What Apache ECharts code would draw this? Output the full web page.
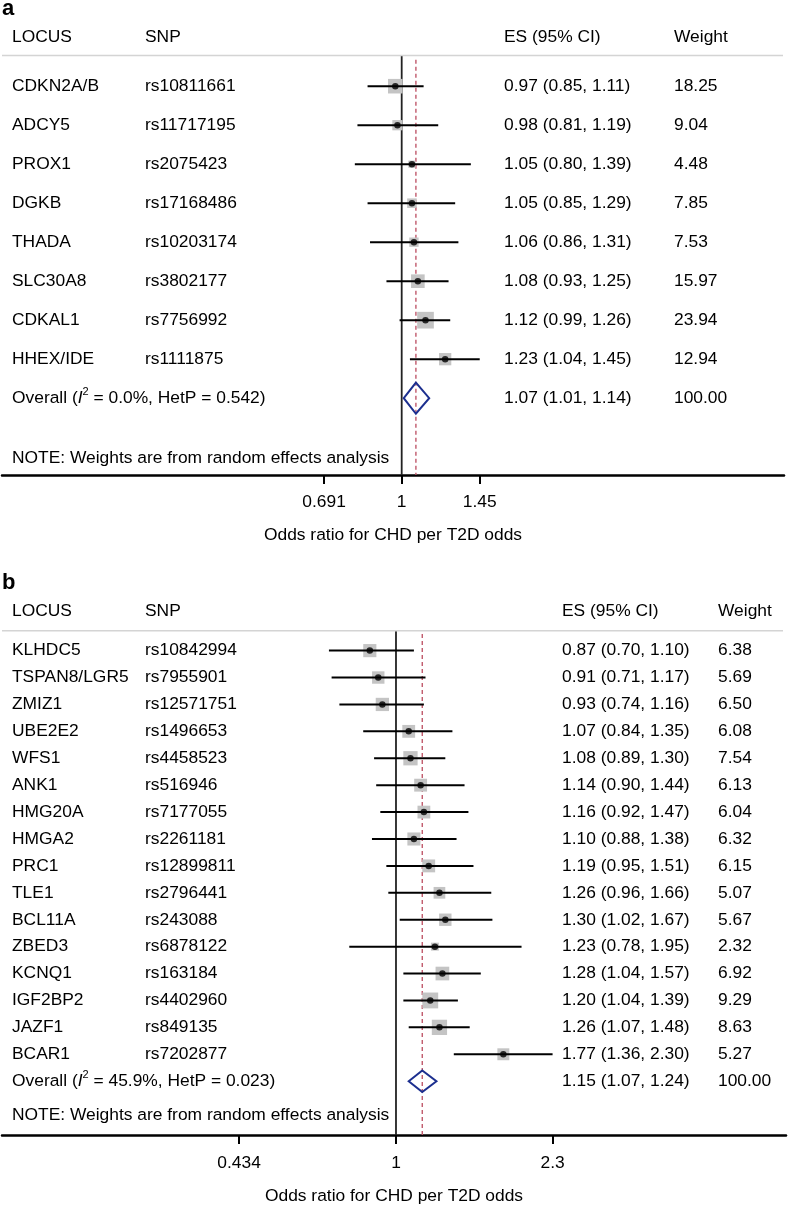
<!DOCTYPE html>
<html><head><meta charset="utf-8">
<script src="https://cdn.jsdelivr.net/npm/echarts@6/dist/echarts.min.js"></script>
<style>html,body{margin:0;padding:0;background:#fff}#c{width:788px;height:1206px}</style>
</head><body><div id="c"></div>
<script>
// ---------- Panel a data ----------
const locusA = ['CDKN2A/B','ADCY5','PROX1','DGKB','THADA','SLC30A8','CDKAL1','HHEX/IDE'];
const snpA = ['rs10811661','rs11717195','rs2075423','rs17168486','rs10203174','rs3802177','rs7756992','rs1111875'];
const esA = [0.97, 0.98, 1.05, 1.05, 1.06, 1.08, 1.12, 1.23];
const loA = [0.85, 0.81, 0.80, 0.85, 0.86, 0.93, 0.99, 1.04];
const hiA = [1.11, 1.19, 1.39, 1.29, 1.31, 1.25, 1.26, 1.45];
const weightA = [18.25, 9.04, 4.48, 7.85, 7.53, 15.97, 23.94, 12.94];
const overallA = [1.07, 1.01, 1.14];
const overallWeightA = 100.00;
const hetA = ['0.0%', '0.542'];
const tickValuesA = [0.691, 1, 1.45];
const tickLabelsA = ['0.691', '1', '1.45'];

// ---------- Panel b data ----------
const locusB = ['KLHDC5','TSPAN8/LGR5','ZMIZ1','UBE2E2','WFS1','ANK1','HMG20A','HMGA2','PRC1','TLE1','BCL11A','ZBED3','KCNQ1','IGF2BP2','JAZF1','BCAR1'];
const snpB = ['rs10842994','rs7955901','rs12571751','rs1496653','rs4458523','rs516946','rs7177055','rs2261181','rs12899811','rs2796441','rs243088','rs6878122','rs163184','rs4402960','rs849135','rs7202877'];
const esB = [0.87, 0.91, 0.93, 1.07, 1.08, 1.14, 1.16, 1.10, 1.19, 1.26, 1.30, 1.23, 1.28, 1.20, 1.26, 1.77];
const loB = [0.70, 0.71, 0.74, 0.84, 0.89, 0.90, 0.92, 0.88, 0.95, 0.96, 1.02, 0.78, 1.04, 1.04, 1.07, 1.36];
const hiB = [1.10, 1.17, 1.16, 1.35, 1.30, 1.44, 1.47, 1.38, 1.51, 1.66, 1.67, 1.95, 1.57, 1.39, 1.48, 2.30];
const weightB = [6.38, 5.69, 6.50, 6.08, 7.54, 6.13, 6.04, 6.32, 6.15, 5.07, 5.67, 2.32, 6.92, 9.29, 8.63, 5.27];
const overallB = [1.15, 1.07, 1.24];
const overallWeightB = 100.00;
const hetB = ['45.9%', '0.023'];
const tickValuesB = [0.434, 1, 2.3];
const tickLabelsB = ['0.434', '1', '2.3'];

// ---------- Shared text ----------
const headers = ['LOCUS', 'SNP', 'ES (95% CI)', 'Weight'];
const panelLetters = ['a', 'b'];
const noteText = 'NOTE: Weights are from random effects analysis';
const axisTitle = 'Odds ratio for CHD per T2D odds';

const FONT = '"Liberation Sans", Arial, Helvetica, sans-serif';
const FS = 17.4;
const ln = Math.log;

const panels = [
  { d: {locus: locusA, snp: snpA, es: esA, lo: loA, hi: hiA, w: weightA, o: overallA, ow: overallWeightA, het: hetA, tv: tickValuesA, tl: tickLabelsA},
    L: {top: 86 - 2 * 38.9, height: 12 * 38.9, left: 2, width: 782, xmin: -1.9033, xmax: 1.8205, yMax: 9.97,
        header: -1.25, divider: -0.79, nullStart: -0.79, dashStart: -0.68, note: 9.55,
        cols: [12, 145, 504, 674], dh: 0.4, sq: 3.41, letterY: 9, margin: 19, gap: 52 } },
  { d: {locus: locusB, snp: snpB, es: esB, lo: loB, hi: hiB, w: weightB, o: overallB, ow: overallWeightB, het: hetB, tv: tickValuesB, tl: tickLabelsB},
    L: {top: 651 - 2 * 27.1, height: 20 * 27.1, left: 2, width: 784, xmin: -2.0957, xmax: 2.0745, yMax: 18,
        header: -1.46, divider: -0.74, nullStart: -0.74, dashStart: -0.62, note: 17.25,
        cols: [12, 145, 562, 718], dh: 0.4, sq: 5.2, letterY: 583, margin: 20, gap: 53 } }
];

const grids = [], xAxes = [], yAxes = [], series = [], graphics = [];

panels.forEach((P, g) => {
  const d = P.d, L = P.L, N = d.locus.length;
  const ticksLn = d.tv.map(v => ln(v));
  grids.push({left: L.left, width: L.width, top: L.top, height: L.height, containLabel: false});
  xAxes.push({
    gridIndex: g, type: 'value', min: L.xmin, max: L.xmax, position: 'bottom',
    axisLine: {show: true, onZero: false, lineStyle: {color: '#000', width: 2.5}},
    axisTick: {show: true, customValues: ticksLn, length: 9, lineStyle: {color: '#000', width: 2}},
    axisLabel: {show: true, customValues: ticksLn, margin: L.margin, color: '#000', fontSize: FS, fontFamily: FONT,
      formatter: v => { const k = ticksLn.findIndex(t => Math.abs(t - v) < 1e-6); return k >= 0 ? d.tl[k] : ''; }},
    splitLine: {show: false},
    name: axisTitle, nameLocation: 'middle', nameGap: L.gap,
    nameTextStyle: {color: '#000', fontSize: FS, fontFamily: FONT}
  });
  yAxes.push({gridIndex: g, type: 'value', inverse: true, min: -2, max: L.yMax, show: false});

  // weight squares
  series.push({type: 'scatter', xAxisIndex: g, yAxisIndex: g, symbol: 'rect', silent: true, z: 2,
    data: d.es.map((e, i) => [ln(e), i, d.w[i]]),
    symbolSize: v => Math.sqrt(v[2]) * L.sq,
    itemStyle: {color: '#c4c4c4', opacity: 1}});
  // CI lines
  series.push({type: 'custom', xAxisIndex: g, yAxisIndex: g, z: 3, silent: true,
    data: d.lo.map((l, i) => [ln(l), ln(d.hi[i]), i]),
    renderItem: (p, api) => {
      const a = api.coord([api.value(0), api.value(2)]);
      const b = api.coord([api.value(1), api.value(2)]);
      return {type: 'line', shape: {x1: a[0], y1: a[1], x2: b[0], y2: b[1]}, style: {stroke: '#000', lineWidth: 2}};
    }});
  // point estimates
  series.push({type: 'scatter', xAxisIndex: g, yAxisIndex: g, symbol: 'circle', symbolSize: 6.5, silent: true, z: 4,
    data: d.es.map((e, i) => [ln(e), i]), itemStyle: {color: '#000'}});
  // null line and overall dashed line
  series.push({type: 'custom', xAxisIndex: g, yAxisIndex: g, z: 1, silent: true,
    data: [[0, L.nullStart, L.yMax, 0], [ln(d.o[0]), L.dashStart, L.yMax, 1]],
    renderItem: (p, api) => {
      const a = api.coord([api.value(0), api.value(1)]);
      const b = api.coord([api.value(0), api.value(2)]);
      const dashed = api.value(3) === 1;
      return {type: 'line', shape: {x1: a[0], y1: a[1], x2: b[0], y2: b[1]},
        style: dashed ? {stroke: '#c0596b', lineWidth: 1.4, lineDash: [4, 3]} : {stroke: '#222', lineWidth: 1.8}};
    }});
  // overall diamond
  series.push({type: 'custom', xAxisIndex: g, yAxisIndex: g, z: 5, silent: true,
    data: [[ln(d.o[0]), ln(d.o[1]), ln(d.o[2]), N]],
    renderItem: (p, api) => {
      const es = api.value(0), lo = api.value(1), hi = api.value(2), y = api.value(3);
      const pts = [api.coord([lo, y]), api.coord([es, y - L.dh]), api.coord([hi, y]), api.coord([es, y + L.dh])];
      return {type: 'polygon', shape: {points: pts}, style: {fill: 'none', stroke: '#1c2f8f', lineWidth: 2}};
    }});
  // table text
  const rowsY = d.locus.map((_, i) => i).concat([N, L.header, L.note]);
  series.push({type: 'custom', xAxisIndex: g, yAxisIndex: g, z: 6, silent: true,
    data: rowsY.map(y => [0, y]),
    renderItem: (p, api) => {
      const k = p.dataIndex;
      const y = api.coord([0, api.value(1)])[1];
      const t = (x, s, extra) => ({type: 'text', x: x, y: y,
        style: Object.assign({text: s, fill: '#000', fontSize: FS, fontFamily: FONT, verticalAlign: 'middle', align: 'left'}, extra || {})});
      if (k < N) {
        const ci = d.es[k].toFixed(2) + ' (' + d.lo[k].toFixed(2) + ', ' + d.hi[k].toFixed(2) + ')';
        return {type: 'group', children: [t(L.cols[0], d.locus[k]), t(L.cols[1], d.snp[k]), t(L.cols[2], ci), t(L.cols[3], d.w[k].toFixed(2))]};
      }
      if (k === N) {
        const ci = d.o[0].toFixed(2) + ' (' + d.o[1].toFixed(2) + ', ' + d.o[2].toFixed(2) + ')';
        const base = {fontSize: FS, fontFamily: FONT, fill: '#000', color: '#000', lineHeight: 24};
        const lab = {type: 'text', x: L.cols[0], y: y, style: {
          text: '{n|Overall (}{i|I}{s|2}{n| = ' + d.het[0] + ', HetP = ' + d.het[1] + ')}',
          verticalAlign: 'middle', align: 'left', fill: '#000', fontSize: FS, fontFamily: FONT,
          rich: {n: base, i: Object.assign({}, base, {fontStyle: 'italic'}),
                 s: {fontSize: 11, fontFamily: FONT, fill: '#000', color: '#000', verticalAlign: 'top', lineHeight: 12}}}};
        return {type: 'group', children: [lab, t(L.cols[2], ci), t(L.cols[3], d.ow.toFixed(2))]};
      }
      if (k === N + 1) {
        const yd = api.coord([0, L.divider])[1];
        return {type: 'group', children: headers.map((h, j) => t(L.cols[j], h)).concat([
          {type: 'line', shape: {x1: 2, y1: yd, x2: 783, y2: yd}, style: {stroke: '#d4d4d4', lineWidth: 1.5}}])};
      }
      return t(L.cols[0], noteText);
    }});
  graphics.push({type: 'text', left: 2, top: L.letterY - 11, style: {text: panelLetters[g], fill: '#000', font: 'bold 22px ' + FONT}});
});

const chart = echarts.init(document.getElementById('c'), null, {renderer: 'canvas'});
chart.setOption({
  animation: false,
  backgroundColor: '#fff',
  grid: grids, xAxis: xAxes, yAxis: yAxes, series: series, graphic: graphics
});
</script></body></html>
